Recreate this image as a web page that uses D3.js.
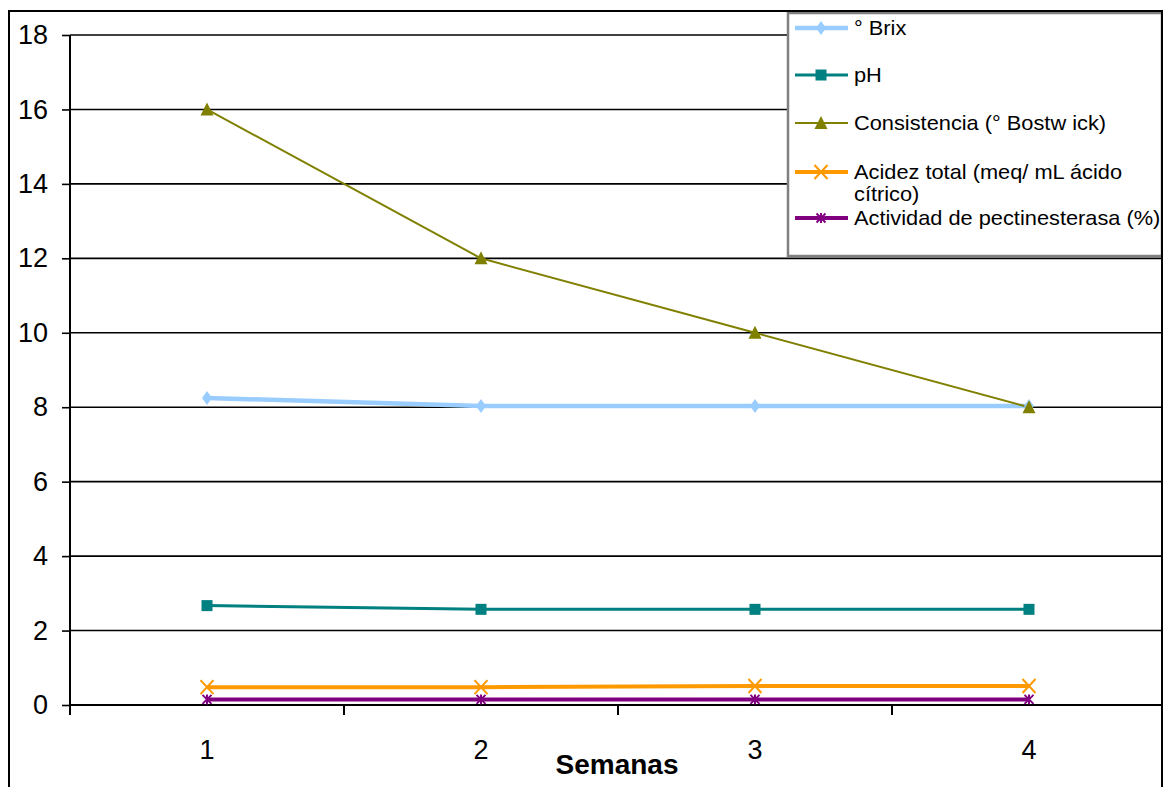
<!DOCTYPE html>
<html>
<head>
<meta charset="utf-8">
<script src="https://cdn.jsdelivr.net/npm/d3@7"></script>
<style>
  html, body { margin: 0; padding: 0; background: #fff; }
  svg { display: block; font-family: "Liberation Sans", Arial, sans-serif; }
</style>
</head>
<body>
<svg id="chart" width="1163" height="787"></svg>
<script>
// Weeks on the x axis
const weeks = ["1", "2", "3", "4"];
// Y axis ticks
const yTicks = [0, 2, 4, 6, 8, 10, 12, 14, 16, 18];

// Series values per week
const brix = [8.25, 8.03, 8.03, 8.03];
const ph = [2.67, 2.57, 2.57, 2.57];
const consistencia = [16, 12, 10, 8];
const acidez = [0.48, 0.48, 0.51, 0.51];
const pectinesterasa = [0.15, 0.15, 0.15, 0.15];

const seriesNames = [
  "° Brix",
  "pH",
  "Consistencia (° Bostw ick)",
  ["Acidez total (meq/ mL ácido", "cítrico)"],
  "Actividad de pectinesterasa (%)"
];

const series = [
  { name: seriesNames[0], values: brix, color: "#99CCFF", width: 4.5, marker: "diamond" },
  { name: seriesNames[1], values: ph, color: "#008080", width: 3, marker: "square" },
  { name: seriesNames[2], values: consistencia, color: "#808000", width: 2, marker: "triangle" },
  { name: seriesNames[3], values: acidez, color: "#FF9900", width: 4, marker: "x" },
  { name: seriesNames[4], values: pectinesterasa, color: "#800080", width: 4, marker: "star" }
];

const svg = d3.select("#chart");

const plot = { left: 70, right: 1166, top: 35, bottom: 705 };

const x = d3.scaleBand().domain(weeks).range([plot.left, plot.right]).padding(0);
const cx = d => x(d) + x.bandwidth() / 2;
const y = d3.scaleLinear().domain([0, 18]).range([plot.bottom, plot.top]);

svg.append("defs").append("clipPath").attr("id", "frame-clip")
  .append("rect").attr("x", 9).attr("y", 11).attr("width", 1153).attr("height", 780);

const g = svg.append("g").attr("clip-path", "url(#frame-clip)");

// Horizontal gridlines
g.append("g").selectAll("line").data(yTicks.filter(t => t > 0)).join("line")
  .attr("x1", plot.left).attr("x2", 1162)
  .attr("y1", d => y(d)).attr("y2", d => y(d))
  .attr("stroke", "#000").attr("stroke-width", 1.6);

// Y axis
const yAxis = d3.axisLeft(y).tickValues(yTicks).tickSize(8).tickPadding(14).tickFormat(d3.format("d"));
const yg = g.append("g").attr("transform", `translate(${plot.left},0)`).call(yAxis);
yg.select(".domain").attr("stroke", "#000").attr("stroke-width", 2)
  .attr("d", `M0,${plot.top}V${plot.bottom + 10}`);
yg.selectAll(".tick line").attr("stroke", "#000").attr("stroke-width", 1.6);
yg.selectAll(".tick text").attr("font-size", 27).attr("fill", "#000")
  .attr("font-family", "Liberation Sans, Arial, sans-serif");

// X axis: ticks between categories, labels under each category
const boundaries = weeks.map(w => x(w)).concat([plot.right]);
const xg = g.append("g");
xg.append("line").attr("x1", plot.left).attr("x2", 1162)
  .attr("y1", plot.bottom).attr("y2", plot.bottom)
  .attr("stroke", "#000").attr("stroke-width", 2);
xg.selectAll("line.tk").data(boundaries).join("line").attr("class", "tk")
  .attr("x1", d => d).attr("x2", d => d)
  .attr("y1", plot.bottom).attr("y2", plot.bottom + 10)
  .attr("stroke", "#000").attr("stroke-width", 2);
xg.selectAll("text").data(weeks).join("text")
  .attr("x", d => cx(d)).attr("y", 759)
  .attr("text-anchor", "middle").attr("font-size", 27).attr("fill", "#000")
  .text(d => d);

// Axis title
svg.append("text").attr("x", 617).attr("y", 774).attr("text-anchor", "middle")
  .attr("font-size", 28).attr("font-weight", "bold").attr("fill", "#000")
  .text("Semanas");

// Marker drawing
function drawMarker(sel, type, color) {
  if (type === "diamond") {
    sel.append("path").attr("d", "M0,-7L5,0L0,7L-5,0Z").attr("fill", color);
  } else if (type === "square") {
    sel.append("rect").attr("x", -5.5).attr("y", -5.5).attr("width", 11).attr("height", 11).attr("fill", color);
  } else if (type === "triangle") {
    sel.append("path").attr("d", "M0,-7L6.5,6L-6.5,6Z").attr("fill", color);
  } else if (type === "x") {
    sel.append("path").attr("d", "M-6.5,-7L6.5,7M-6.5,7L6.5,-7")
      .attr("stroke", color).attr("stroke-width", 2).attr("fill", "none");
  } else if (type === "star") {
    sel.append("path").attr("d", "M-4.5,-4.5L4.5,4.5M-4.5,4.5L4.5,-4.5M0,-5V5")
      .attr("stroke", color).attr("stroke-width", 2).attr("fill", "none");
  }
}

const line = d3.line().x((d, i) => cx(weeks[i])).y(d => y(d));

const sg = g.append("g");
series.forEach(s => {
  sg.append("path").datum(s.values).attr("d", line)
    .attr("fill", "none").attr("stroke", s.color).attr("stroke-width", s.width)
    .attr("stroke-linejoin", "round");
});
series.forEach(s => {
  s.values.forEach((v, i) => {
    const m = sg.append("g").attr("transform", `translate(${cx(weeks[i])},${y(v)})`);
    drawMarker(m, s.marker, s.color);
  });
});

// Legend
const lg = svg.append("g");
lg.append("rect").attr("x", 788).attr("y", 13).attr("width", 374).attr("height", 243)
  .attr("fill", "#fff").attr("stroke", "#808080").attr("stroke-width", 2.5);
const rowY = [28, 75, 123, 172, 218];
series.forEach((s, i) => {
  const row = lg.append("g").attr("transform", `translate(0,${rowY[i]})`);
  row.append("line").attr("x1", 795).attr("x2", 848).attr("y1", 0).attr("y2", 0)
    .attr("stroke", s.color).attr("stroke-width", s.width);
  const m = row.append("g").attr("transform", "translate(821,0)");
  drawMarker(m, s.marker, s.color);
  const lines = Array.isArray(s.name) ? s.name : [s.name];
  const t = row.append("text").attr("transform", "translate(854,7) scale(1.09,1)")
    .attr("font-size", 20).attr("fill", "#000");
  lines.forEach((ln, k) => {
    t.append("tspan").attr("x", 0).attr("dy", k === 0 ? 0 : 22).text(ln);
  });
});

// Outer chart frame
svg.append("path").attr("d", "M9,800V11H1162V800")
  .attr("fill", "none").attr("stroke", "#000").attr("stroke-width", 2);
</script>
</body>
</html>
